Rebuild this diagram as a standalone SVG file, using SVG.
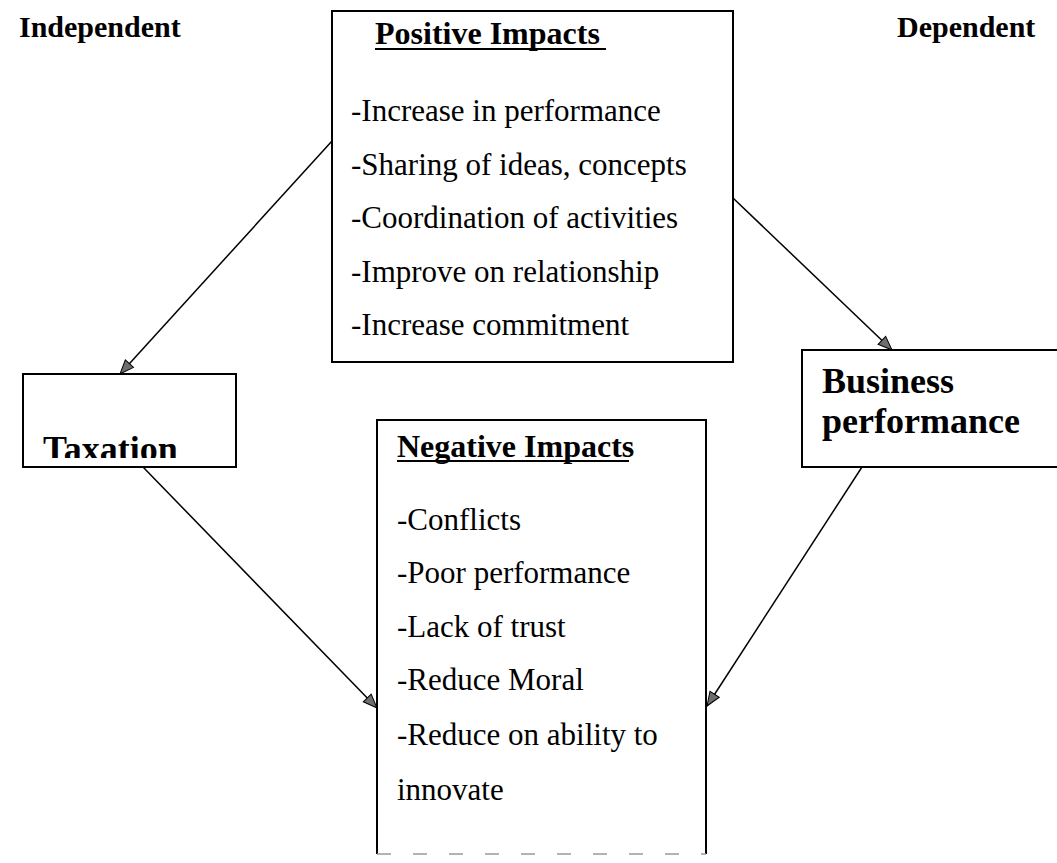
<svg xmlns="http://www.w3.org/2000/svg" width="1057" height="863" viewBox="0 0 1057 863">
  <style>
    .box { fill: #ffffff; stroke: #000000; stroke-width: 2; }
    .edge { fill: none; stroke: #000000; stroke-width: 2; }
    .head { font-family: "Liberation Serif", "Times New Roman", serif; font-weight: bold; font-size: 30px; fill: #000000; }
    .title { font-family: "Liberation Serif", "Times New Roman", serif; font-weight: bold; font-size: 32px; fill: #000000; }
    .item { font-family: "Liberation Serif", "Times New Roman", serif; font-size: 31px; fill: #000000; }
    .big { font-family: "Liberation Serif", "Times New Roman", serif; font-weight: bold; font-size: 36px; fill: #000000; }
    .rule { stroke: #000000; stroke-width: 2; }
    .link { fill: none; stroke: #000000; stroke-width: 1.5; }
  </style>
  <defs>
    <marker id="arrow" markerUnits="userSpaceOnUse" markerWidth="18" markerHeight="14" refX="15" refY="7" orient="auto">
      <path d="M1,1.5 L15,7 L1,12.5 Z" fill="#6e6e6e" stroke="#000000" stroke-width="1"/>
    </marker>
    <clipPath id="taxClip">
      <rect x="24" y="376" width="210" height="82"/>
    </clipPath>
  </defs>

  <rect width="1057" height="863" fill="#ffffff"/>

  <!-- column headings -->
  <g id="heading-independent">
    <text class="head" x="19" y="37">Independent</text>
  </g>
  <g id="heading-dependent">
    <text class="head" x="897" y="37">Dependent</text>
  </g>

  <!-- positive impacts box -->
  <g id="positive-impacts">
    <rect class="box" x="332" y="11" width="401" height="351"/>
    <text class="title" x="375" y="44">Positive Impacts</text>
    <line class="rule" x1="375" y1="49" x2="606" y2="49"/>
    <text class="item" x="351" y="121">-Increase in performance</text>
    <text class="item" x="351" y="175">-Sharing of ideas, concepts</text>
    <text class="item" x="351" y="228">-Coordination of activities</text>
    <text class="item" x="351" y="282">-Improve on relationship</text>
    <text class="item" x="351" y="335">-Increase commitment</text>
  </g>

  <!-- taxation box -->
  <g id="taxation">
    <rect class="box" x="23" y="374" width="213" height="93"/>
    <text class="big" x="43" y="461" clip-path="url(#taxClip)">Taxation</text>
  </g>

  <!-- business performance box (runs off the right edge) -->
  <g id="business-performance">
    <rect class="box" x="802" y="350" width="270" height="117"/>
    <text class="big" x="822" y="393">Business</text>
    <text class="big" x="822" y="433">performance</text>
  </g>

  <!-- negative impacts box, bottom edge broken -->
  <g id="negative-impacts">
    <rect x="377" y="420" width="329" height="434" fill="#ffffff"/>
    <path class="edge" d="M377,854 L377,420 L706,420 L706,854"/>
    <line x1="377" y1="854" x2="706" y2="854" stroke="#9a9a9a" stroke-width="1.5" stroke-dasharray="14 22"/>
    <text class="title" x="397" y="457">Negative Impacts</text>
    <line class="rule" x1="397" y1="461" x2="629" y2="461"/>
    <text class="item" x="397" y="530">-Conflicts</text>
    <text class="item" x="397" y="583">-Poor performance</text>
    <text class="item" x="397" y="637">-Lack of trust</text>
    <text class="item" x="397" y="690">-Reduce Moral</text>
    <text class="item" x="397" y="745">-Reduce on ability to</text>
    <text class="item" x="397" y="800">innovate</text>
  </g>

  <!-- connectors -->
  <g id="connectors">
    <line class="link" x1="332" y1="141" x2="120" y2="374" marker-end="url(#arrow)"/>
    <line class="link" x1="733" y1="198" x2="892" y2="350" marker-end="url(#arrow)"/>
    <line class="link" x1="143" y1="467" x2="377" y2="708" marker-end="url(#arrow)"/>
    <line class="link" x1="862" y1="467" x2="707" y2="706" marker-end="url(#arrow)"/>
  </g>
</svg>
